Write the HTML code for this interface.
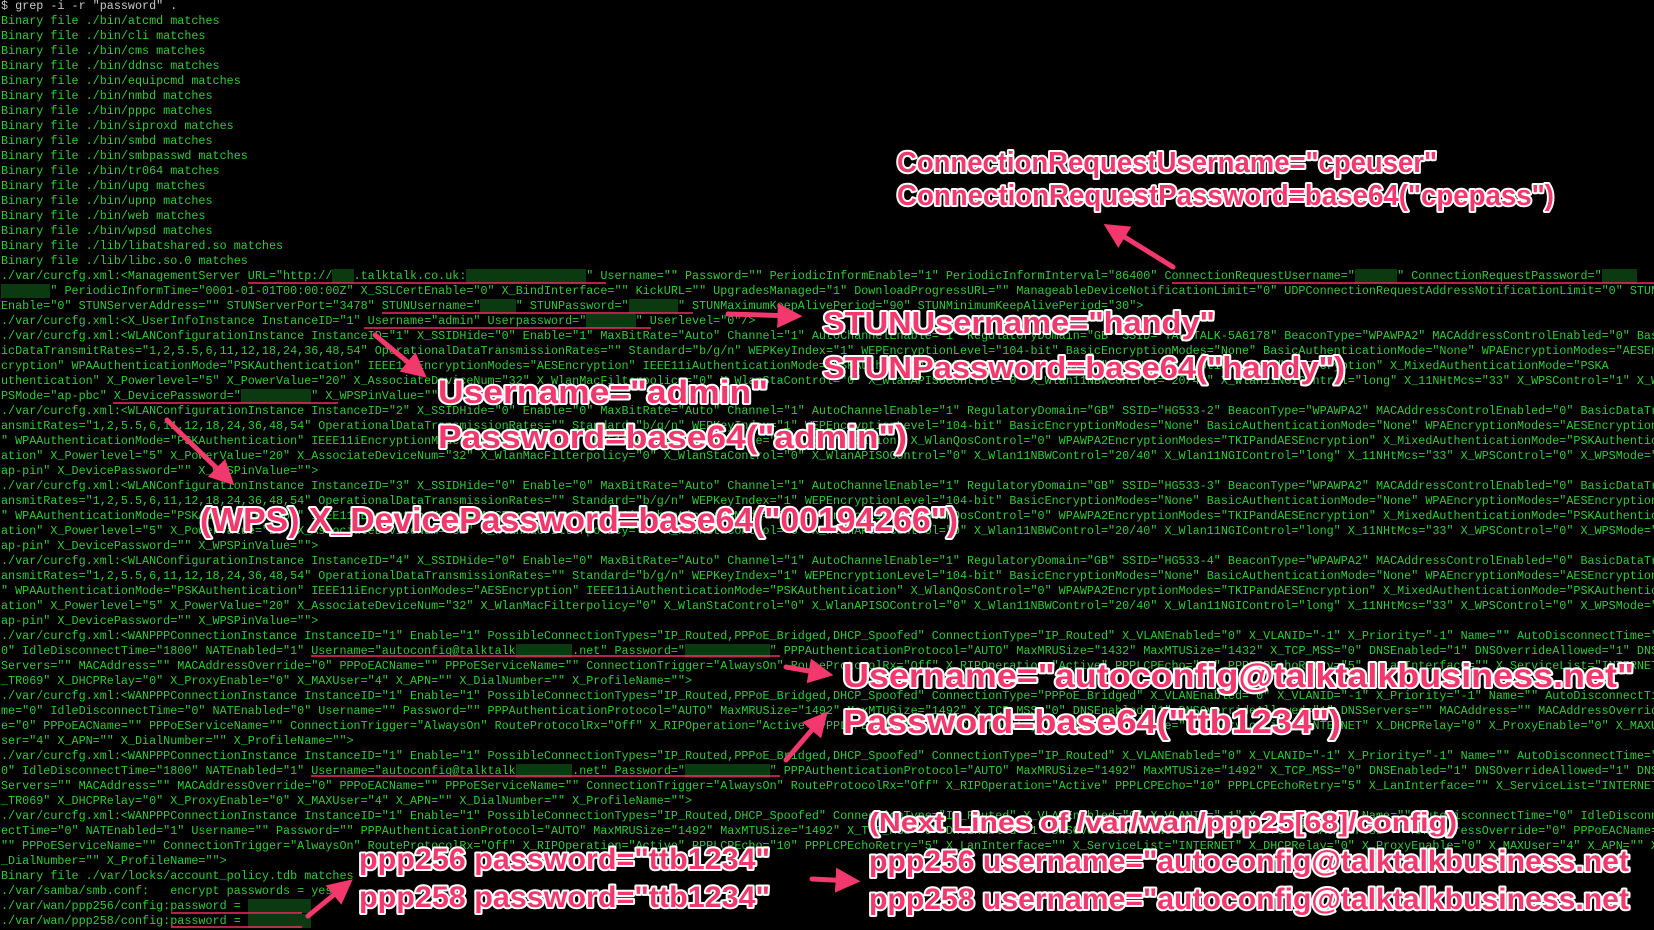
<!DOCTYPE html>
<html><head><meta charset="utf-8"><style>
html,body{margin:0;padding:0;background:#000;width:1654px;height:930px;overflow:hidden}
pre{position:absolute;left:1px;top:-1.5px;margin:0;font-family:"Liberation Mono",monospace;font-size:11.75px;line-height:15px;color:#34c83a;white-space:pre;width:1654px;overflow:hidden}
pre span.r{background:#0c3a10;color:transparent}
pre .w{color:#c8c8c8}
svg{position:absolute;left:0;top:0}
</style></head><body>
<pre><span class="w">$ grep -i -r "password" .</span>
Binary file ./bin/atcmd matches
Binary file ./bin/cli matches
Binary file ./bin/cms matches
Binary file ./bin/ddnsc matches
Binary file ./bin/equipcmd matches
Binary file ./bin/nmbd matches
Binary file ./bin/pppc matches
Binary file ./bin/siproxd matches
Binary file ./bin/smbd matches
Binary file ./bin/smbpasswd matches
Binary file ./bin/tr064 matches
Binary file ./bin/upg matches
Binary file ./bin/upnp matches
Binary file ./bin/web matches
Binary file ./bin/wpsd matches
Binary file ./lib/libatshared.so matches
Binary file ./lib/libc.so.0 matches
./var/curcfg.xml:&lt;ManagementServer URL="http://<span class="r">xxx</span>.talktalk.co.uk:<span class="r">xxxxxxxxxxxxxxxxx</span>" Username="" Password="" PeriodicInformEnable="1" PeriodicInformInterval="86400" ConnectionRequestUsername="<span class="r">xxxxxx</span>" ConnectionRequestPassword="<span class="r">xxxxx</span>
<span class="r">xxxxxxx</span>" PeriodicInformTime="0001-01-01T00:00:00Z" X_SSLCertEnable="0" X_BindInterface="" KickURL="" UpgradesManaged="1" DownloadProgressURL="" ManageableDeviceNotificationLimit="0" UDPConnectionRequestAddressNotificationLimit="0" STUN
Enable="0" STUNServerAddress="" STUNServerPort="3478" STUNUsername="<span class="r">xxxxx</span>" STUNPassword="<span class="r">xxxxxxx</span>" STUNMaximumKeepAlivePeriod="90" STUNMinimumKeepAlivePeriod="30"&gt;
./var/curcfg.xml:&lt;X_UserInfoInstance InstanceID="1" Username="admin" Userpassword="<span class="r">xxxxxxx</span>" Userlevel="0"/&gt;
./var/curcfg.xml:&lt;WLANConfigurationInstance InstanceID="1" X_SSIDHide="0" Enable="1" MaxBitRate="Auto" Channel="1" AutoChannelEnable="1" RegulatoryDomain="GB" SSID="TALKTALK-5A6178" BeaconType="WPAWPA2" MACAddressControlEnabled="0" Bas
icDataTransmitRates="1,2,5.5,6,11,12,18,24,36,48,54" OperationalDataTransmissionRates="" Standard="b/g/n" WEPKeyIndex="1" WEPEncryptionLevel="104-bit" BasicEncryptionModes="None" BasicAuthenticationMode="None" WPAEncryptionModes="AESEn
cryption" WPAAuthenticationMode="PSKAuthentication" IEEE11iEncryptionModes="AESEncryption" IEEE11iAuthenticationMode="PSKAuthentication" X_WlanQosControl="0" WPAWPA2EncryptionModes="AESEncryption" X_MixedAuthenticationMode="PSKA
uthentication" X_Powerlevel="5" X_PowerValue="20" X_AssociateDeviceNum="32" X_WlanMacFilterpolicy="0" X_WlanStaControl="0" X_WlanAPISOControl="0" X_Wlan11NBWControl="20/40" X_Wlan11NGIControl="long" X_11NHtMcs="33" X_WPSControl="1" X_W
PSMode="ap-pbc" X_DevicePassword="<span class="r">xxxxxxxxxx</span>" X_WPSPinValue=""&gt;
./var/curcfg.xml:&lt;WLANConfigurationInstance InstanceID="2" X_SSIDHide="0" Enable="0" MaxBitRate="Auto" Channel="1" AutoChannelEnable="1" RegulatoryDomain="GB" SSID="HG533-2" BeaconType="WPAWPA2" MACAddressControlEnabled="0" BasicDataTr
ansmitRates="1,2,5.5,6,11,12,18,24,36,48,54" OperationalDataTransmissionRates="" Standard="b/g/n" WEPKeyIndex="1" WEPEncryptionLevel="104-bit" BasicEncryptionModes="None" BasicAuthenticationMode="None" WPAEncryptionModes="AESEncryption
" WPAAuthenticationMode="PSKAuthentication" IEEE11iEncryptionModes="AESEncryption" IEEE11iAuthenticationMode="PSKAuthentication" X_WlanQosControl="0" WPAWPA2EncryptionModes="TKIPandAESEncryption" X_MixedAuthenticationMode="PSKAuthentic
ation" X_Powerlevel="5" X_PowerValue="20" X_AssociateDeviceNum="32" X_WlanMacFilterpolicy="0" X_WlanStaControl="0" X_WlanAPISOControl="0" X_Wlan11NBWControl="20/40" X_Wlan11NGIControl="long" X_11NHtMcs="33" X_WPSControl="0" X_WPSMode="
ap-pin" X_DevicePassword="" X_WPSPinValue=""&gt;
./var/curcfg.xml:&lt;WLANConfigurationInstance InstanceID="3" X_SSIDHide="0" Enable="0" MaxBitRate="Auto" Channel="1" AutoChannelEnable="1" RegulatoryDomain="GB" SSID="HG533-3" BeaconType="WPAWPA2" MACAddressControlEnabled="0" BasicDataTr
ansmitRates="1,2,5.5,6,11,12,18,24,36,48,54" OperationalDataTransmissionRates="" Standard="b/g/n" WEPKeyIndex="1" WEPEncryptionLevel="104-bit" BasicEncryptionModes="None" BasicAuthenticationMode="None" WPAEncryptionModes="AESEncryption
" WPAAuthenticationMode="PSKAuthentication" IEEE11iEncryptionModes="AESEncryption" IEEE11iAuthenticationMode="PSKAuthentication" X_WlanQosControl="0" WPAWPA2EncryptionModes="TKIPandAESEncryption" X_MixedAuthenticationMode="PSKAuthentic
ation" X_Powerlevel="5" X_PowerValue="20" X_AssociateDeviceNum="32" X_WlanMacFilterpolicy="0" X_WlanStaControl="0" X_WlanAPISOControl="0" X_Wlan11NBWControl="20/40" X_Wlan11NGIControl="long" X_11NHtMcs="33" X_WPSControl="0" X_WPSMode="
ap-pin" X_DevicePassword="" X_WPSPinValue=""&gt;
./var/curcfg.xml:&lt;WLANConfigurationInstance InstanceID="4" X_SSIDHide="0" Enable="0" MaxBitRate="Auto" Channel="1" AutoChannelEnable="1" RegulatoryDomain="GB" SSID="HG533-4" BeaconType="WPAWPA2" MACAddressControlEnabled="0" BasicDataTr
ansmitRates="1,2,5.5,6,11,12,18,24,36,48,54" OperationalDataTransmissionRates="" Standard="b/g/n" WEPKeyIndex="1" WEPEncryptionLevel="104-bit" BasicEncryptionModes="None" BasicAuthenticationMode="None" WPAEncryptionModes="AESEncryption
" WPAAuthenticationMode="PSKAuthentication" IEEE11iEncryptionModes="AESEncryption" IEEE11iAuthenticationMode="PSKAuthentication" X_WlanQosControl="0" WPAWPA2EncryptionModes="TKIPandAESEncryption" X_MixedAuthenticationMode="PSKAuthentic
ation" X_Powerlevel="5" X_PowerValue="20" X_AssociateDeviceNum="32" X_WlanMacFilterpolicy="0" X_WlanStaControl="0" X_WlanAPISOControl="0" X_Wlan11NBWControl="20/40" X_Wlan11NGIControl="long" X_11NHtMcs="33" X_WPSControl="0" X_WPSMode="
ap-pin" X_DevicePassword="" X_WPSPinValue=""&gt;
./var/curcfg.xml:&lt;WANPPPConnectionInstance InstanceID="1" Enable="1" PossibleConnectionTypes="IP_Routed,PPPoE_Bridged,DHCP_Spoofed" ConnectionType="IP_Routed" X_VLANEnabled="0" X_VLANID="-1" X_Priority="-1" Name="" AutoDisconnectTime="
0" IdleDisconnectTime="1800" NATEnabled="1" Username="autoconfig@talktalk<span class="r">xxxxxxxx</span>.net" Password="<span class="r">xxxxxxxxxxxx</span>" PPPAuthenticationProtocol="AUTO" MaxMRUSize="1432" MaxMTUSize="1432" X_TCP_MSS="0" DNSEnabled="1" DNSOverrideAllowed="1" DNS
Servers="" MACAddress="" MACAddressOverride="0" PPPoEACName="" PPPoEServiceName="" ConnectionTrigger="AlwaysOn" RouteProtocolRx="Off" X_RIPOperation="Active" PPPLCPEcho="10" PPPLCPEchoRetry="5" X_LanInterface="" X_ServiceList="INTERNET
_TR069" X_DHCPRelay="0" X_ProxyEnable="0" X_MAXUser="4" X_APN="" X_DialNumber="" X_ProfileName=""&gt;
./var/curcfg.xml:&lt;WANPPPConnectionInstance InstanceID="1" Enable="1" PossibleConnectionTypes="IP_Routed,PPPoE_Bridged,DHCP_Spoofed" ConnectionType="PPPoE_Bridged" X_VLANEnabled="0" X_VLANID="-1" X_Priority="-1" Name="" AutoDisconnectTi
me="0" IdleDisconnectTime="0" NATEnabled="0" Username="" Password="" PPPAuthenticationProtocol="AUTO" MaxMRUSize="1492" MaxMTUSize="1492" X_TCP_MSS="0" DNSEnabled="1" DNSOverrideAllowed="1" DNSServers="" MACAddress="" MACAddressOverrid
e="0" PPPoEACName="" PPPoEServiceName="" ConnectionTrigger="AlwaysOn" RouteProtocolRx="Off" X_RIPOperation="Active" PPPLCPEcho="10" PPPLCPEchoRetry="5" X_LanInterface="" X_ServiceList="INTERNET" X_DHCPRelay="0" X_ProxyEnable="0" X_MAXU
ser="4" X_APN="" X_DialNumber="" X_ProfileName=""&gt;
./var/curcfg.xml:&lt;WANPPPConnectionInstance InstanceID="1" Enable="1" PossibleConnectionTypes="IP_Routed,PPPoE_Bridged,DHCP_Spoofed" ConnectionType="IP_Routed" X_VLANEnabled="0" X_VLANID="-1" X_Priority="-1" Name="" AutoDisconnectTime="
0" IdleDisconnectTime="1800" NATEnabled="1" Username="autoconfig@talktalk<span class="r">xxxxxxxx</span>.net" Password="<span class="r">xxxxxxxxxxxx</span>" PPPAuthenticationProtocol="AUTO" MaxMRUSize="1492" MaxMTUSize="1492" X_TCP_MSS="0" DNSEnabled="1" DNSOverrideAllowed="1" DNS
Servers="" MACAddress="" MACAddressOverride="0" PPPoEACName="" PPPoEServiceName="" ConnectionTrigger="AlwaysOn" RouteProtocolRx="Off" X_RIPOperation="Active" PPPLCPEcho="10" PPPLCPEchoRetry="5" X_LanInterface="" X_ServiceList="INTERNET
_TR069" X_DHCPRelay="0" X_ProxyEnable="0" X_MAXUser="4" X_APN="" X_DialNumber="" X_ProfileName=""&gt;
./var/curcfg.xml:&lt;WANPPPConnectionInstance InstanceID="1" Enable="1" PossibleConnectionTypes="IP_Routed,DHCP_Spoofed" ConnectionType="IP_Routed" X_VLANEnabled="0" X_VLANID="-1" X_Priority="-1" Name="" AutoDisconnectTime="0" IdleDisconn
ectTime="0" NATEnabled="1" Username="" Password="" PPPAuthenticationProtocol="AUTO" MaxMRUSize="1492" MaxMTUSize="1492" X_TCP_MSS="0" DNSEnabled="1" DNSOverrideAllowed="1" DNSServers="" MACAddress="" MACAddressOverride="0" PPPoEACName=
"" PPPoEServiceName="" ConnectionTrigger="AlwaysOn" RouteProtocolRx="Off" X_RIPOperation="Active" PPPLCPEcho="10" PPPLCPEchoRetry="5" X_LanInterface="" X_ServiceList="INTERNET" X_DHCPRelay="0" X_ProxyEnable="0" X_MAXUser="4" X_APN="" X
_DialNumber="" X_ProfileName=""&gt;
Binary file ./var/locks/account_policy.tdb matches
./var/samba/smb.conf:   encrypt passwords = yes
./var/wan/ppp256/config:password = <span class="r">xxxxxxxxx</span>
./var/wan/ppp258/config:password = <span class="r">xxxxxxxxx</span></pre>
<svg width="1654" height="930" viewBox="0 0 1654 930">
<defs>
<marker id="ah" viewBox="0 0 10 10" refX="7" refY="5" markerWidth="5" markerHeight="5" orient="auto" markerUnits="strokeWidth">
<path d="M0,0 L10,5 L0,10 z" fill="#f2386c"/>
</marker>
</defs>
<g stroke="#ee2f5f" stroke-width="1.6">
<line x1="248" y1="283" x2="606" y2="283"/>
<line x1="1172" y1="283" x2="1654" y2="283"/>
<line x1="382" y1="313" x2="693" y2="313"/>
<line x1="364" y1="328" x2="651" y2="328"/>
<line x1="113" y1="403" x2="338" y2="403"/>
<line x1="311" y1="656" x2="780" y2="656"/>
<line x1="311" y1="776" x2="780" y2="776"/>
<line x1="171" y1="913" x2="302" y2="913"/>
<line x1="171" y1="927" x2="302" y2="927"/>
</g>
<g stroke="#f2386c" stroke-width="5" stroke-linecap="round" marker-end="url(#ah)">
<line x1="1173" y1="267" x2="1110" y2="228"/>
<line x1="728" y1="314" x2="795" y2="316"/>
<line x1="375" y1="335" x2="421" y2="373"/>
<line x1="167" y1="420" x2="229" y2="480"/>
<line x1="786" y1="667" x2="826" y2="674"/>
<line x1="786" y1="760" x2="823" y2="717"/>
<line x1="308" y1="916" x2="347" y2="884"/>
<line x1="812" y1="879" x2="853" y2="881"/>
</g>
<g font-family="Liberation Sans, Arial, sans-serif" font-weight="bold" fill="#f2386c" stroke="#fff" stroke-width="4" stroke-linejoin="round" paint-order="stroke" lengthAdjust="spacingAndGlyphs">
<text x="897" y="172" font-size="29" textLength="540" lengthAdjust="spacingAndGlyphs">ConnectionRequestUsername="cpeuser"</text>
<text x="897" y="205" font-size="29" textLength="657" lengthAdjust="spacingAndGlyphs">ConnectionRequestPassword=base64("cpepass")</text>
<text x="823" y="333" font-size="31" textLength="392" lengthAdjust="spacingAndGlyphs">STUNUsername="handy"</text>
<text x="823" y="378" font-size="31" textLength="522" lengthAdjust="spacingAndGlyphs">STUNPassword=base64("handy")</text>
<text x="438" y="403" font-size="32" textLength="330" lengthAdjust="spacingAndGlyphs">Username="admin"</text>
<text x="438" y="448" font-size="32" textLength="469" lengthAdjust="spacingAndGlyphs">Password=base64("admin")</text>
<text x="200" y="531" font-size="33" textLength="758" lengthAdjust="spacingAndGlyphs">(WPS) X_DevicePassword=base64("00194266")</text>
<text x="843" y="687" font-size="33" textLength="791" lengthAdjust="spacingAndGlyphs">Username="autoconfig@talktalkbusiness.net"</text>
<text x="843" y="733" font-size="33" textLength="498" lengthAdjust="spacingAndGlyphs">Password=base64("ttb1234")</text>
<text x="869" y="831" font-size="26" textLength="588" lengthAdjust="spacingAndGlyphs">(Next Lines of /var/wan/ppp25[68]/config)</text>
<text x="359" y="869" font-size="30" textLength="411" lengthAdjust="spacingAndGlyphs">ppp256 password="ttb1234"</text>
<text x="359" y="907" font-size="30" textLength="411" lengthAdjust="spacingAndGlyphs">ppp258 password="ttb1234"</text>
<text x="869" y="871" font-size="30" textLength="760" lengthAdjust="spacingAndGlyphs">ppp256 username="autoconfig@talktalkbusiness.net</text>
<text x="869" y="909" font-size="30" textLength="760" lengthAdjust="spacingAndGlyphs">ppp258 username="autoconfig@talktalkbusiness.net</text>
</g>
</svg>
</body></html>
